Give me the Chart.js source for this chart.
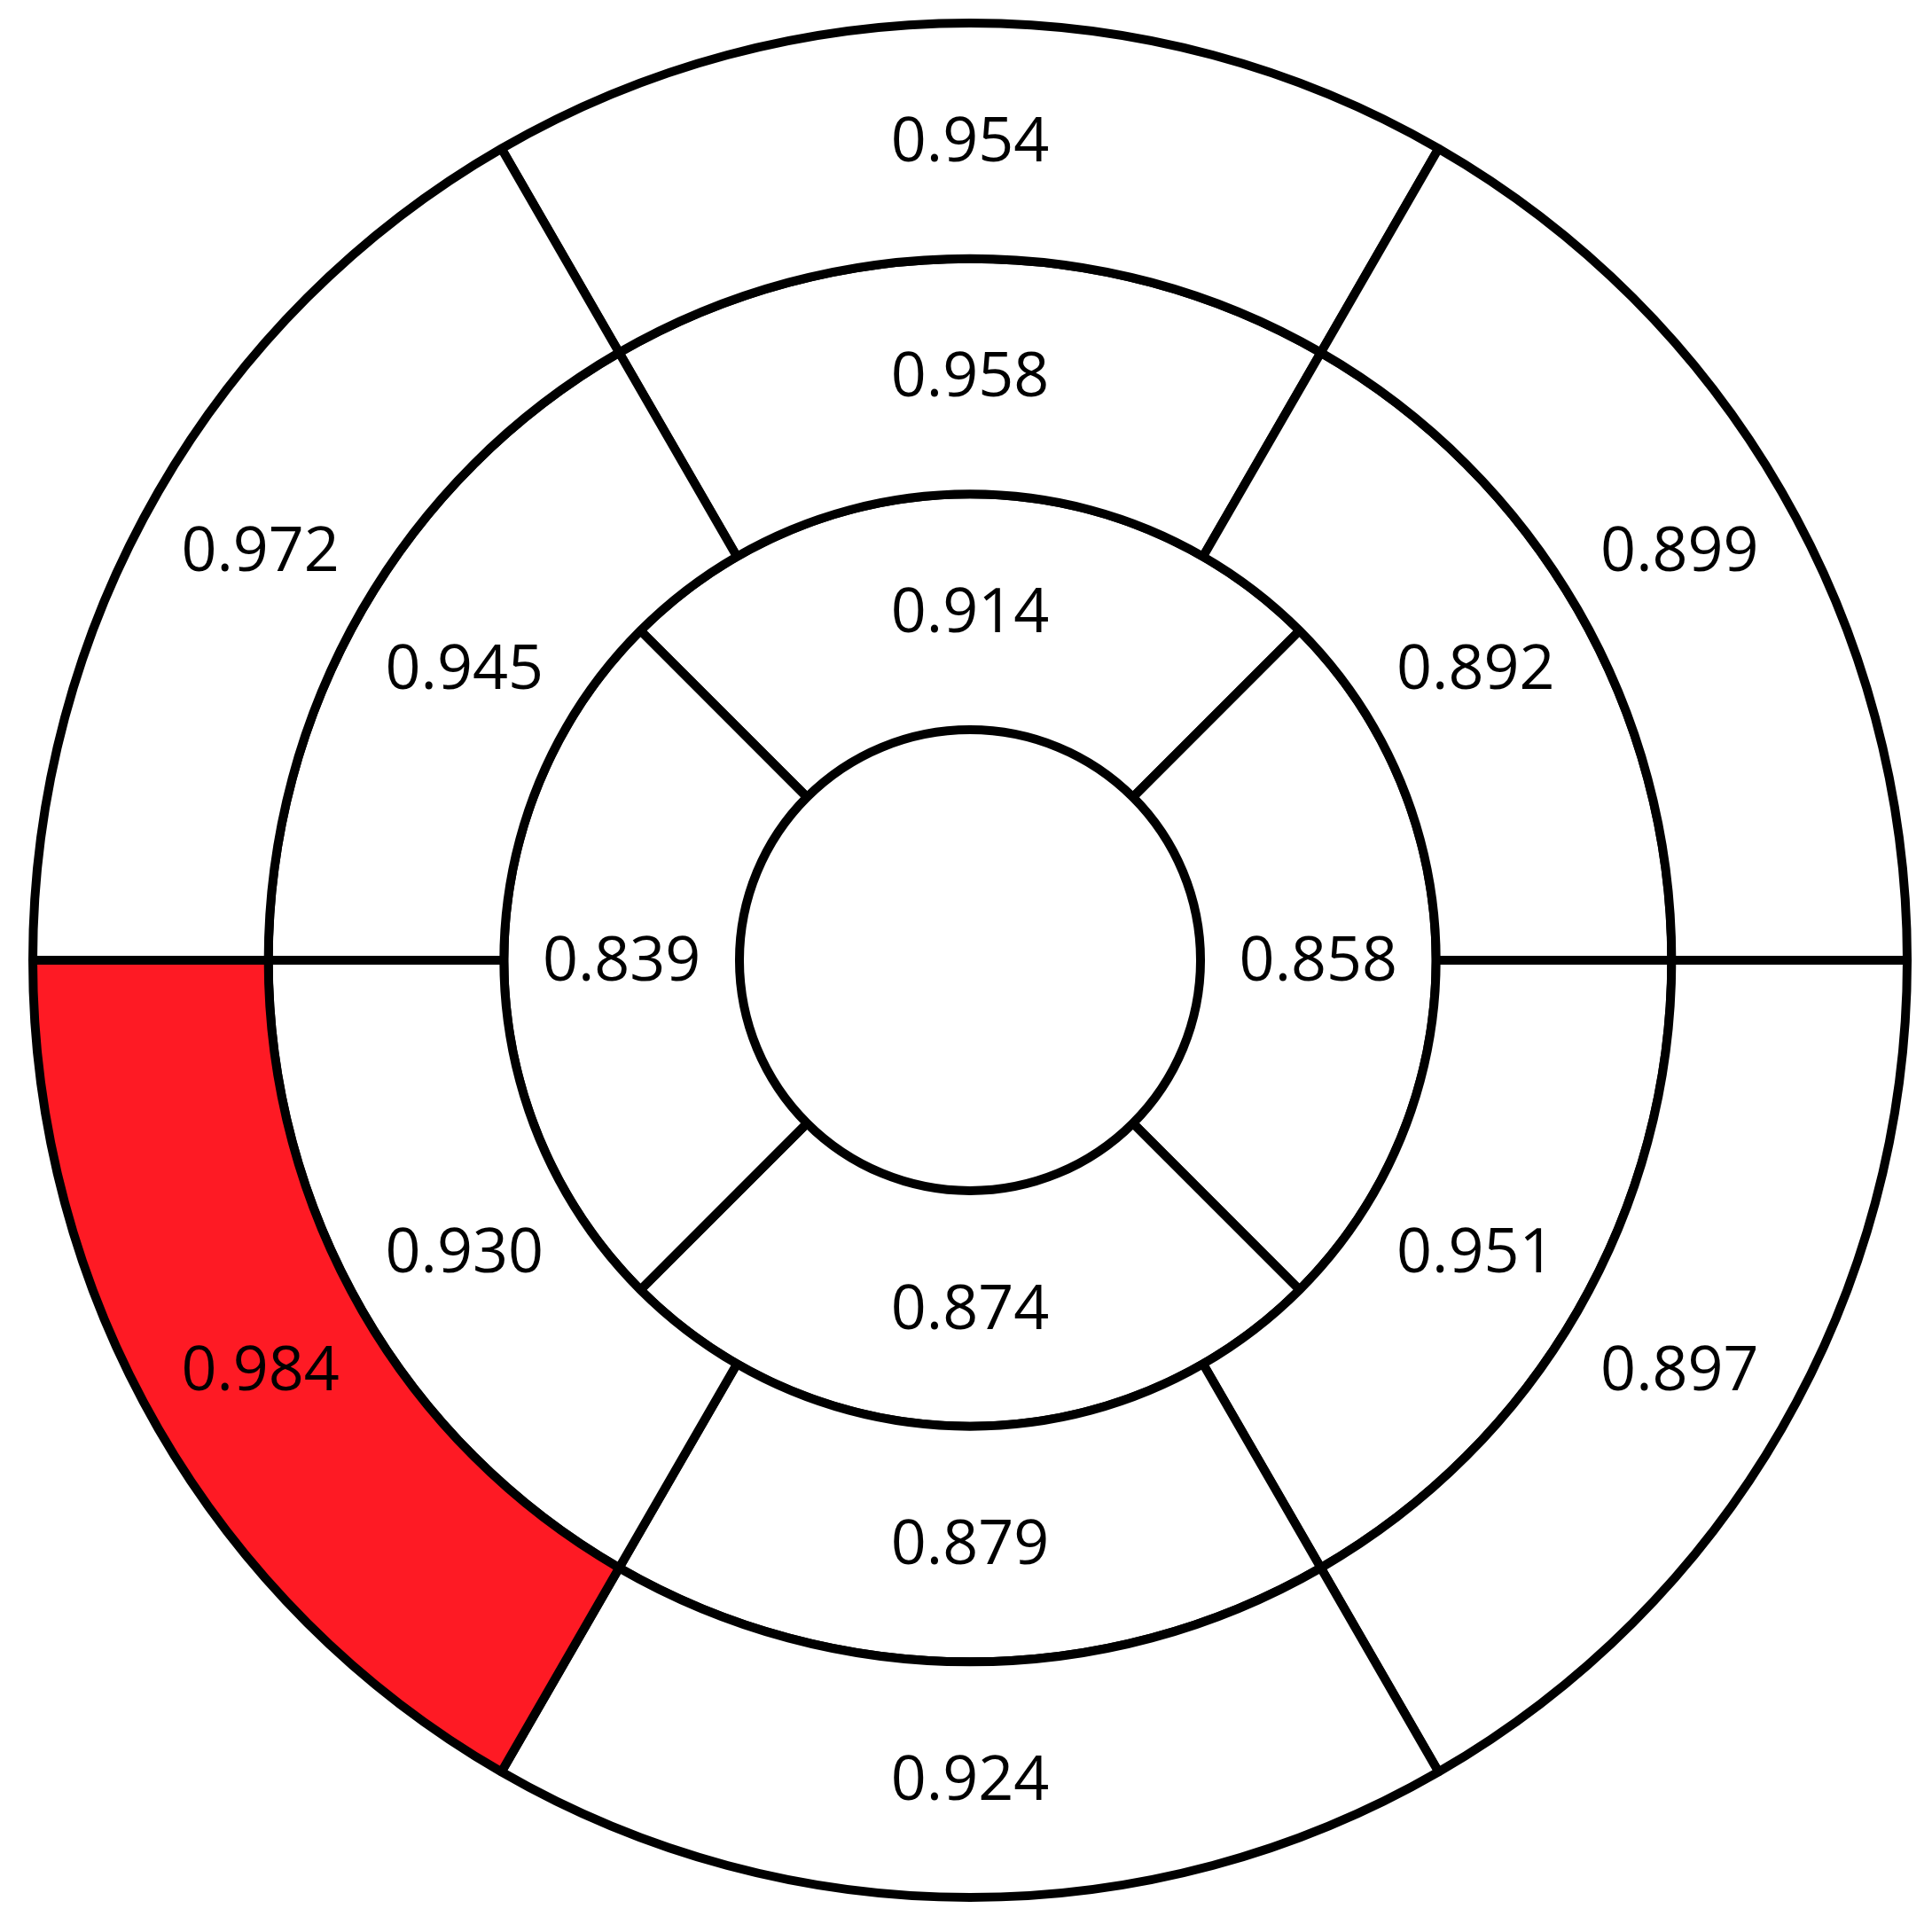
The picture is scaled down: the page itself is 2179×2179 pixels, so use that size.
<!DOCTYPE html>
<html>
<head>
<meta charset="utf-8">
<script src="https://cdn.jsdelivr.net/npm/chart.js@4/dist/chart.umd.min.js"></script>
<style>
  html, body { margin: 0; padding: 0; background: #ffffff; }
  canvas { display: block; }
</style>
</head>
<body>
<canvas id="c" width="2179" height="2179" style="width:2179px;height:2179px"></canvas>
<script>
// Segment values, clockwise starting from the top segment
const outerValues  = [0.954, 0.899, 0.897, 0.924, 0.984, 0.972];
const middleValues = [0.958, 0.892, 0.951, 0.879, 0.930, 0.945];
const innerValues  = [0.914, 0.858, 0.874, 0.839];

// Fill colours per segment
const RED = '#FE1A24';
const WHITE = '#FFFFFF';
const outerFill  = [WHITE, WHITE, WHITE, WHITE, RED, WHITE];
const middleFill = [WHITE, WHITE, WHITE, WHITE, WHITE, WHITE];
const innerFill  = [WHITE, WHITE, WHITE, WHITE];

const equalArcs = arr => arr.map(() => 1);

const labelPlugin = {
  id: 'segmentLabels',
  afterDatasetsDraw(chart) {
    const ctx = chart.ctx;
    ctx.save();
    ctx.font = '500 70px "Open Sans"';
    ctx.fillStyle = '#000000';
    ctx.textAlign = 'center';
    ctx.textBaseline = 'middle';
    chart.data.datasets.forEach((ds, di) => {
      const meta = chart.getDatasetMeta(di);
      meta.data.forEach((arc, i) => {
        const p = arc.tooltipPosition();
        ctx.fillText(ds.values[i].toFixed(3), p.x, p.y + 3);
      });
    });
    ctx.restore();
  }
};

const common = {
  borderColor: '#000000',
  borderWidth: 10,
  hoverBorderWidth: 10,
  hoverOffset: 0,
  offset: 0,
  borderAlign: 'center'
};

new Chart(document.getElementById('c'), {
  type: 'doughnut',
  data: {
    datasets: [
      Object.assign({ data: equalArcs(outerValues), values: outerValues, backgroundColor: outerFill, hoverBackgroundColor: outerFill, rotation: -30 }, common),
      Object.assign({ data: equalArcs(middleValues), values: middleValues, backgroundColor: middleFill, hoverBackgroundColor: middleFill, rotation: -30 }, common),
      Object.assign({ data: equalArcs(innerValues), values: innerValues, backgroundColor: innerFill, hoverBackgroundColor: innerFill, rotation: -45 }, common)
    ]
  },
  options: {
    responsive: false,
    animation: false,
    devicePixelRatio: 1,
    cutout: '24.6%',
    layout: { padding: { left: 32, right: 23, top: 21, bottom: 34 } },
    events: [],
    plugins: {
      legend: { display: false },
      tooltip: { enabled: false }
    }
  },
  plugins: [labelPlugin]
});
</script>
</body>
</html>
